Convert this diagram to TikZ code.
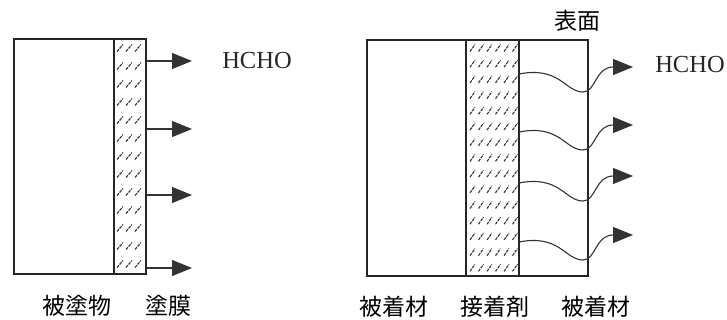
\documentclass[tikz,border=0pt]{standalone}
\usepackage{fontspec}
\setmainfont{Liberation Serif}
\newfontfamily\jpfont{Noto Sans CJK JP}
\usetikzlibrary{arrows.meta}

\begin{document}
\begin{tikzpicture}[x=1pt,y=-1pt,line width=1.5pt,
  wall/.style={draw=black!85},
  gas/.style={line width=1.1pt,draw=black!80,-{Triangle[length=20pt,width=16pt]}},
  hatch/.style={line width=1.1pt,black!80,dash pattern=on 3pt off 1pt},
  lbl/.style={font=\jpfont\fontsize{23}{23}\selectfont,inner sep=0pt},
  gasname/.style={font=\fontsize{24.5}{24.5}\selectfont,inner sep=0pt,text=black!85}]
\useasboundingbox (0,0) rectangle (727,320);
% painted board
\draw[wall] (14,39) rectangle (146,274);
\draw[wall] (114,39) -- (114,274);
\foreach \y in {48,66,...,270}
  \foreach \x in {117,126,135}
    \draw[hatch] (\x,\y+3.5) -- (\x+6,\y-3.5);
\foreach \y [count=\i] in {61,129,195,268} {
  \coordinate (s\i) at (147,\y);
  \coordinate (t\i) at (192,\y);
  \draw[gas] (s\i) -- (t\i);
}
\node[gasname] (hcho1) at (257,61) {HCHO};
\node[lbl] (base1) at (77,306) {被塗物};
\node[lbl] (film) at (168,306) {塗膜};
% glued board
\draw[wall] (367,40) rectangle (588,276);
\draw[wall] (466,40) -- (466,276);
\draw[wall] (519,40) -- (519,276);
\foreach \y in {48,63.7,...,272}
  \foreach \x in {470,478.5,...,513}
    \draw[hatch] (\x,\y+3.5) -- (\x+5,\y-3.5);
\foreach \y [count=\i] in {72,130,181,240} {
  \coordinate (w\i) at (519,\y+2);
  \coordinate (e\i) at (633,\y-5);
  \draw[gas] (w\i) .. controls (560,\y-6) and (565,\y+20) .. (583,\y+20)
    .. controls (596,\y+20) and (595,\y-5) .. (e\i);
}
\node[gasname] (hcho2) at (690,65) {HCHO};
\node[lbl] (surf) at (577,21) {表面};
\node[lbl] (base2) at (394,307) {被着材};
\node[lbl] (glue) at (495,307) {接着剤};
\node[lbl] (base3) at (596,307) {被着材};
\end{tikzpicture}
\end{document}
